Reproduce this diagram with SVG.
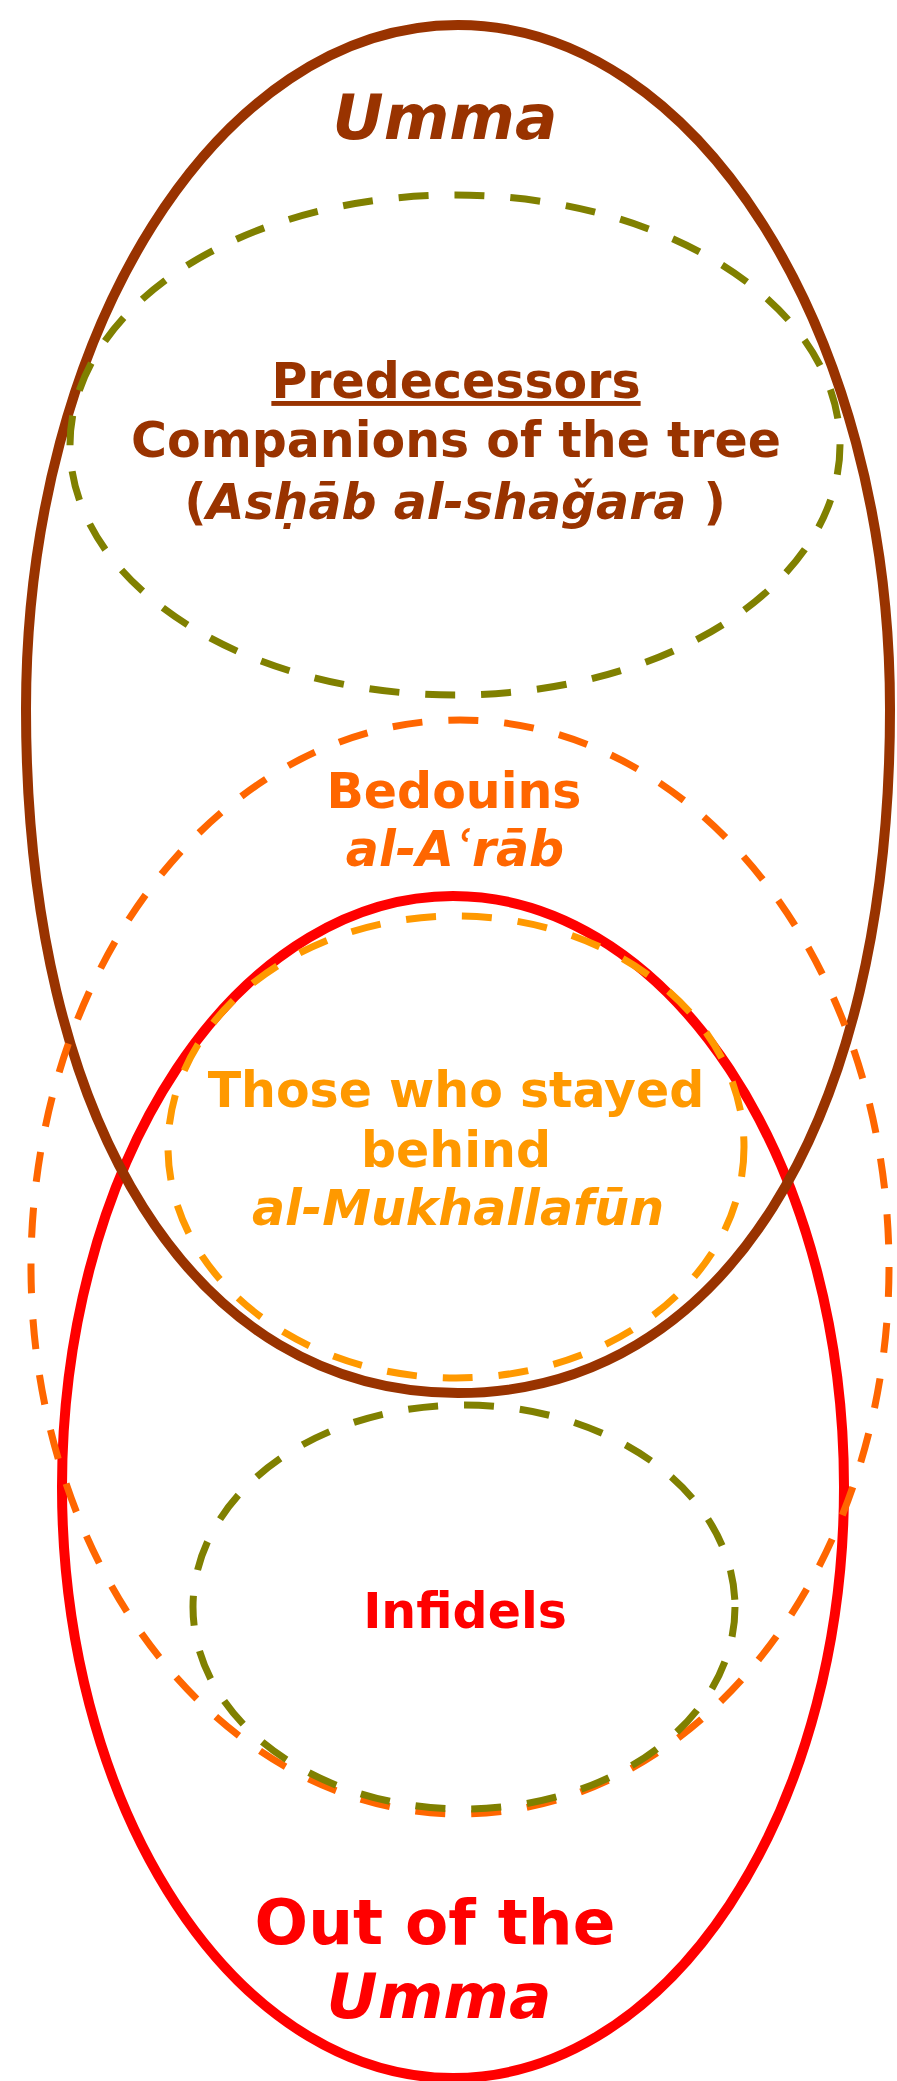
<svg xmlns="http://www.w3.org/2000/svg" width="897" height="2081" viewBox="0 0 897 2081">
<style>
.t{font-family:"DejaVu Sans","Verdana",sans-serif;font-weight:bold;text-anchor:middle}
.i{font-style:italic}
.sm{font-size:49px}
.lg{font-size:63px}
.solid{fill:none;stroke-width:10}
.dash{fill:none;stroke-width:7;stroke-dasharray:30 26}
</style>
<rect width="897" height="2081" fill="#ffffff"/>
<g id="out-of-umma">
<ellipse class="solid" cx="453" cy="1487" rx="391" ry="591" stroke="#FF0000"/>
<text class="t lg" x="435" y="1944" fill="#FF0000">Out of the</text>
<text class="t lg i" x="439" y="2018" fill="#FF0000">Umma</text>
</g>
<g id="umma">
<path class="solid" stroke="#993300" d="M458,25 C696.5,25 890,331.4 890,709 C890,1126 721.5,1393 458,1393 C194.5,1393 26,1126 26,709 C26,331.4 219.5,25 458,25 Z"/>
<text class="t lg i" x="445" y="139" fill="#993300">Umma</text>
</g>
<g id="bedouins">
<ellipse class="dash" cx="460" cy="1267" rx="429" ry="547" stroke="#FF6600"/>
<text class="t sm" x="454" y="808" fill="#FF6600">Bedouins</text>
<text class="t sm i" x="455" y="866" fill="#FF6600">al-Aʿrāb</text>
</g>
<g id="mukhallafun">
<ellipse class="dash" cx="456" cy="1147" rx="288" ry="231" stroke="#FF9900"/>
<text class="t sm" x="456" y="1107" fill="#FF9900">Those who stayed</text>
<text class="t sm" x="456" y="1167" fill="#FF9900">behind</text>
<text class="t sm i" x="458" y="1225" fill="#FF9900">al-Mukhallafūn</text>
</g>
<g id="predecessors">
<ellipse class="dash" cx="455" cy="445" rx="385" ry="250" stroke="#808000"/>
<text class="t sm" x="456" y="398" fill="#993300" text-decoration="underline">Predecessors</text>
<text class="t sm" x="456" y="457" fill="#993300">Companions of the tree</text>
<text class="t sm" x="455" y="519" fill="#993300">(<tspan class="i">Asḥāb al-shaǧara</tspan> )</text>
</g>
<g id="infidels">
<ellipse class="dash" cx="464" cy="1607" rx="271" ry="202" stroke="#808000"/>
<text class="t sm" x="465" y="1628" fill="#FF0000">Infidels</text>
</g>
<g id="connectors"></g>
</svg>
